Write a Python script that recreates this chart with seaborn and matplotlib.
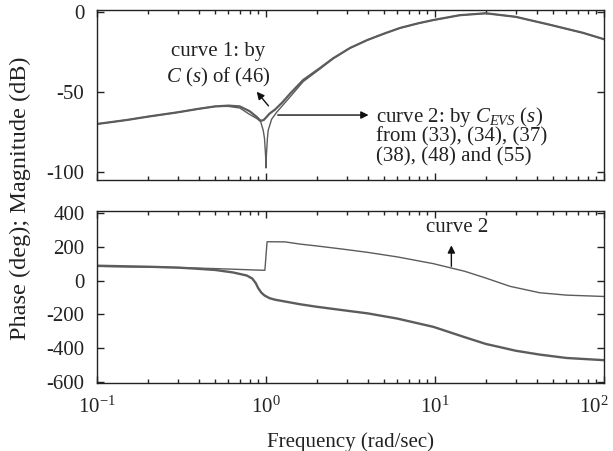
import matplotlib
matplotlib.use("Agg")
import matplotlib.pyplot as plt
import matplotlib.ticker as mticker
import matplotlib.transforms as mtransforms
import seaborn as sns
import pandas as pd

# magnitude (dB), curve 1: C(s) of (46)
w_mag1 = [0.1, 0.15, 0.2, 0.3, 0.4, 0.5, 0.6, 0.7, 0.8, 0.88, 0.93, 0.97, 1.0, 1.05,
          1.13, 1.25, 1.39, 1.66, 2.09, 2.49, 3.14, 3.98, 5.0, 6.2, 8.0, 9.8, 14, 20,
          30, 48, 75, 100]
mag1 = [-70, -67.5, -65.4, -62.7, -60.5, -59, -58.5, -59, -62, -65.5, -68, -67.5,
        -66, -63.5, -61, -56.5, -51, -42.5, -35, -29, -22.5, -17.5, -13.5, -10, -7,
        -5, -2, -0.8, -3, -8, -13, -17]

# magnitude (dB), curve 2: C_EVS(s)
w_mag2 = [0.1, 0.15, 0.2, 0.3, 0.4, 0.5, 0.6, 0.7, 0.8, 0.88, 0.93, 0.963, 0.98,
          0.995, 1.0, 1.005, 1.02, 1.03, 1.08, 1.16, 1.24, 1.39, 1.66, 2.09, 2.49,
          3.14, 3.98, 5.0, 6.2, 8.0, 9.8, 14, 20, 30, 48, 75, 100]
mag2 = [-70, -67.5, -65.4, -62.7, -60.5, -59, -59, -60, -64, -66.5, -68.5, -74, -79,
        -90, -97.5, -90, -79, -74, -67, -62.5, -59, -53, -43.5, -35.5, -29.3,
        -22.5, -17.5, -13.5, -10, -7, -5, -2, -0.8, -3, -8, -13, -17]

# phase (deg), curve 1
w_ph1 = [0.1, 0.2, 0.3, 0.38, 0.5, 0.64, 0.77, 0.83, 0.87, 0.9, 0.94, 0.98, 1.05,
         1.13, 1.3, 1.59, 2.0, 3.0, 4.0, 6.0, 9.8, 15, 20, 24.3, 30, 41.7, 60, 100]
ph1 = [88, 82, 77, 71, 63, 48, 30, 12, -15, -45, -72, -88, -104, -113, -124, -140,
       -155, -178, -194, -225, -274, -335, -375, -394, -415, -438, -458, -471]

# phase (deg), curve 2
w_ph2 = [0.1, 0.3, 0.5, 0.7, 0.9, 0.985, 1.015, 1.3, 1.59, 2.0, 2.86, 4.0, 6.0, 9.8,
         15, 20, 27.8, 41.7, 60, 100]
ph2 = [84, 77, 71, 66, 62, 61, 230, 229, 216, 205, 186, 167, 140, 100, 55, 15, -34,
       -72, -86, -94]

decades = [0.1, 1, 10, 100]

sns.set_style("ticks")
plt.rcParams["font.family"] = ["Liberation Serif", "DejaVu Serif"]
plt.rcParams["mathtext.fontset"] = "custom"
plt.rcParams["mathtext.rm"] = "Liberation Serif"
plt.rcParams["mathtext.it"] = "Liberation Serif:italic"
plt.rcParams["axes.edgecolor"] = "#222222"
plt.rcParams["axes.linewidth"] = 1.0

line_col = "#5c5c5c"
fs = 15

fig = plt.figure(figsize=(6.13, 4.51), dpi=100)
ax1 = fig.add_axes([0.1582, 0.6009, 0.8271, 0.3769])
ax2 = fig.add_axes([0.1582, 0.1508, 0.8271, 0.3814])

mag_df1 = pd.DataFrame({"w": w_mag1, "v": mag1})
mag_df2 = pd.DataFrame({"w": w_mag2, "v": mag2})
ph_df1 = pd.DataFrame({"w": w_ph1, "v": ph1})
ph_df2 = pd.DataFrame({"w": w_ph2, "v": ph2})

sns.lineplot(data=mag_df2, x="w", y="v", ax=ax1, color=line_col, linewidth=1.0)
sns.lineplot(data=mag_df1, x="w", y="v", ax=ax1, color=line_col, linewidth=1.6)
sns.lineplot(data=ph_df2, x="w", y="v", ax=ax2, color=line_col, linewidth=1.0)
sns.lineplot(data=ph_df1, x="w", y="v", ax=ax2, color=line_col, linewidth=1.7)

for ax in (ax1, ax2):
    ax.set_xscale("log")
    ax.set_xlim(0.1, 100)
    ax.set_xlabel("")
    ax.set_ylabel("")
    ax.xaxis.set_major_locator(mticker.FixedLocator(decades))
    ax.xaxis.set_minor_locator(mticker.LogLocator(base=10, subs=range(2, 10)))
    ax.tick_params(which="both", direction="in", top=True, right=True,
                   labelsize=fs, colors="#222222", width=1)
    ax.tick_params(which="major", length=5)
    ax.tick_params(which="minor", length=3)
    ax.tick_params(axis="y", pad=9)
    ax.tick_params(axis="x", pad=10)
    for s in ax.spines.values():
        s.set_visible(True)

ax1.set_ylim(-105, 1.25)
ax1.set_yticks([-100, -50, 0])
ax1.set_yticklabels(["-100", "-50", "0"])
ax1.tick_params(axis="x", labelbottom=False)

ax2.set_ylim(-606, 412)
ax2.set_yticks([-600, -400, -200, 0, 200, 400])
ax2.set_yticklabels(["-600", "-400", "-200", "0", "200", "400"])
ax2.set_xticks(decades)
ax2.set_xticklabels([r"$10^{-1}$", r"$10^{0}$", r"$10^{1}$", r"$10^{2}$"])
ax2.set_xlabel("Frequency (rad/sec)", fontsize=fs, color="#222222", labelpad=10)

# nudge the last decade label inside the figure edge
last = ax2.get_xticklabels()[-1]
last.set_transform(last.get_transform() +
                   mtransforms.ScaledTranslation(-7 / 72, 0, fig.dpi_scale_trans))

fig.text(0.034, 0.56, "Phase (deg); Magnitude (dB)", rotation=90,
         ha="center", va="center", fontsize=17.5, color="#222222")

arrow = dict(arrowstyle="-|>", color="#111111", lw=1.0, mutation_scale=11)

# curve 1 label
ax1.text(0.52, -24.5, "curve 1: by", fontsize=fs, ha="center", va="center",
         color="#222222")
ax1.text(0.52, -41, r"$C$ ($s$) of (46)", fontsize=fs, ha="center", va="center",
         color="#222222")
ax1.annotate("", xy=(0.86, -48.5), xytext=(1.06, -60), arrowprops=arrow)

# curve 2 label
ax1.annotate("", xy=(4.2, -64.4), xytext=(1.13, -64.4), arrowprops=arrow)
ax1.text(4.5, -65.5, r"curve 2: by $C_{EVS}$ ($s$)", fontsize=fs, ha="left",
         va="center", color="#222222")
ax1.text(4.5, -78, "from (33), (34), (37)", fontsize=fs, ha="left", va="center",
         color="#222222")
ax1.text(4.5, -90.5, "(38), (48) and (55)", fontsize=fs, ha="left", va="center",
         color="#222222")

# curve 2 label in phase plot
ax2.text(13.5, 314, "curve 2", fontsize=fs, ha="center", va="center",
         color="#222222")
ax2.annotate("", xy=(12.5, 225), xytext=(12.5, 68), arrowprops=arrow)

fig.savefig("out.png", dpi=100)
